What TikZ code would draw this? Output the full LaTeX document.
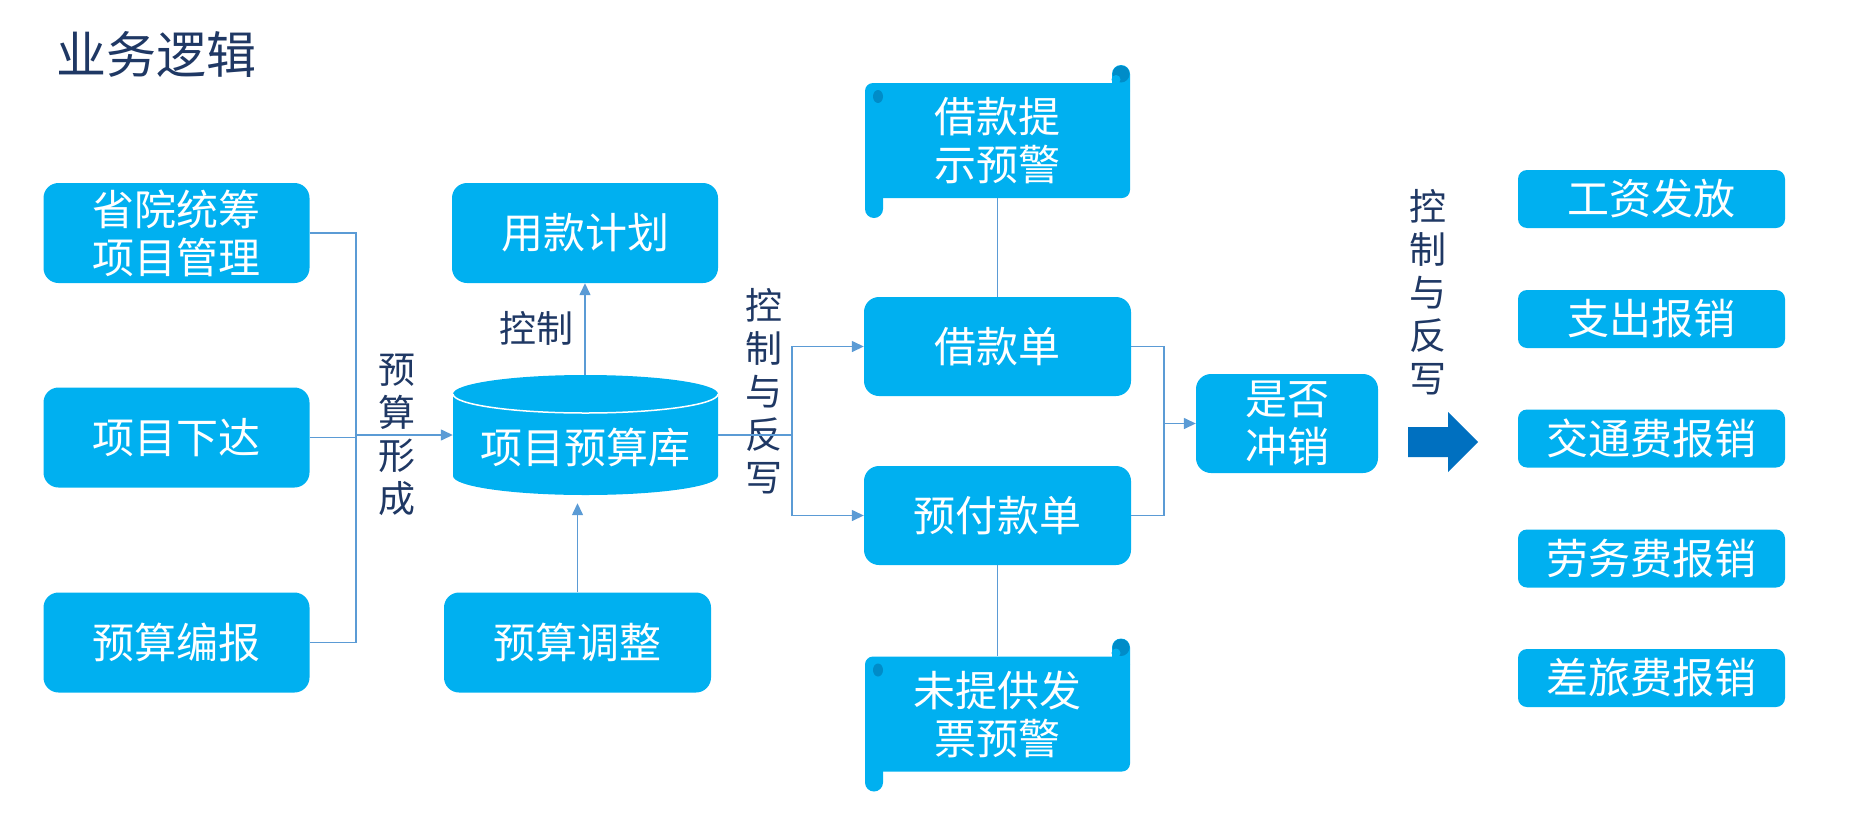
\documentclass[tikz,border=0pt]{standalone}
\usepackage{fontspec}
\newfontfamily\cjk{Noto Sans CJK SC}
\usetikzlibrary{arrows.meta}
\definecolor{boxblue}{HTML}{00B0F0}
\definecolor{linkblue}{HTML}{5B9BD5}
\definecolor{navy}{HTML}{1F3864}
\definecolor{arrowblue}{HTML}{0070C0}
\definecolor{curldark}{HTML}{008CC8}
\tikzset{
  box/.style={fill=boxblue, rounded corners=15pt, text=white, align=center,
    font=\cjk\fontsize{42}{48}\selectfont, minimum width=266pt,
    minimum height=100pt, inner sep=0pt},
  tab/.style={box, rounded corners=9pt, minimum width=267pt, minimum height=58pt},
  scrollbox/.style={box, fill=none, minimum height=115pt},
  note/.style={text=navy, align=center, font=\cjk\fontsize{37}{43}\selectfont, inner sep=0pt},
  link/.style={draw=linkblue, line width=1.4pt},
  flow/.style={link, -{Triangle[length=12pt,width=11pt]}},
  pics/scroll/.style={code={
    \fill[boxblue, rounded corners=8pt] (-132.5,-57.5) rectangle (132.5,57.5);
    \fill[boxblue, rounded corners=9pt] (114.5,-75.5) rectangle (132.5,-40.5);
    \fill[boxblue, rounded corners=9pt] (-132.5,39.5) rectangle (-114.5,77.5);
    \fill[curldark] (123.5,-66.5) circle[radius=8.5];
    \fill[boxblue] (118.5,-61) circle[radius=4.5];
    \fill[curldark] (-119.5,-44) ellipse[x radius=5, y radius=6.5];
  }}
}
\begin{document}
\begin{tikzpicture}[x=1pt,y=-1pt]
\useasboundingbox (0,0) rectangle (1849,833);
\node[anchor=west, text=navy, font=\cjk\fontsize{50}{56}\selectfont, inner sep=0pt]
  (title) at (56,54) {业务逻辑};
% budget sources
\node[box] (prov) at (176.5,233) {省院统筹\\项目管理};
\node[box] (issue) at (176.5,437.5) {项目下达};
\node[box] (draft) at (176.5,642.5) {预算编报};
% budget store
\fill[boxblue] (453,394) -- (453,476)
  arc[start angle=180, end angle=0, x radius=132.5, y radius=19] -- (718,394)
  arc[start angle=0, end angle=-180, x radius=132.5, y radius=19] -- cycle;
\draw[white, line width=1.5pt] (453,394)
  arc[start angle=180, end angle=0, x radius=132.5, y radius=19];
\node[inner sep=0pt, minimum width=265pt, minimum height=120pt, text=white,
  text height=61pt, text depth=5pt,
  font=\cjk\fontsize{42}{48}\selectfont] (db) at (585.5,435) {项目预算库};
\node[box] (plan) at (585,233) {用款计划};
\node[box, minimum width=267pt] (adj) at (577.5,642.5) {预算调整};
% loans
\node[box, minimum width=267pt, minimum height=99pt] (loan) at (997.5,346.5) {借款单};
\node[box, minimum width=267pt, minimum height=99pt] (pre) at (997.5,515.5) {预付款单};
\pic at (997.5,140.5) {scroll};
\node[scrollbox] (warn1) at (997.5,140.5) {借款提\\示预警};
\pic at (997.5,714) {scroll};
\node[scrollbox] (warn2) at (997.5,714) {未提供发\\票预警};
\node[box, minimum width=182pt, minimum height=99pt] (wo) at (1287,423.5) {是否\\冲销};
% payouts
\foreach \name/\y/\txt in {pay/199/工资发放, spend/319/支出报销, trans/438.5/交通费报销,
  labour/558.5/劳务费报销, travel/678/差旅费报销}
  \node[tab] (\name) at (1651.5,\y) {\txt};
% labels
\node[note] (form) at (397,435) {预\\算\\形\\成};
\node[note] (ctl) at (536,328) {控制};
\node[note] (cw1) at (764,391) {控\\制\\与\\反\\写};
\node[note] (cw2) at (1428,292) {控\\制\\与\\反\\写};
% connectors
\coordinate (j1) at (356,435);
\draw[link] (prov.east) -| (j1) |- (draft.east);
\draw[link] (issue.east) -- (issue.east -| j1);
\draw[flow] (j1) -- (db.west);
\draw[flow] (db.north -| plan.south) -- (plan.south);
\draw[flow, shorten >=8pt] (adj.north) -- (adj.north |- db.south);
\coordinate (j2) at (792,435);
\draw[link] (db.east) -- (j2);
\draw[flow] (j2) |- (loan.west);
\draw[flow] (j2) |- (pre.west);
\draw[link] (warn1.south) -- (loan.north);
\draw[link] (pre.south) -- (warn2.north);
\coordinate (j3) at (1164,423.5);
\draw[link] (loan.east) -| (j3) |- (pre.east);
\draw[flow] (j3) -- (wo.west);
\fill[arrowblue] (1408,427) -- (1448,427) -- (1448,412) -- (1478,442)
  -- (1448,472) -- (1448,457) -- (1408,457) -- cycle;
\end{tikzpicture}
\end{document}
